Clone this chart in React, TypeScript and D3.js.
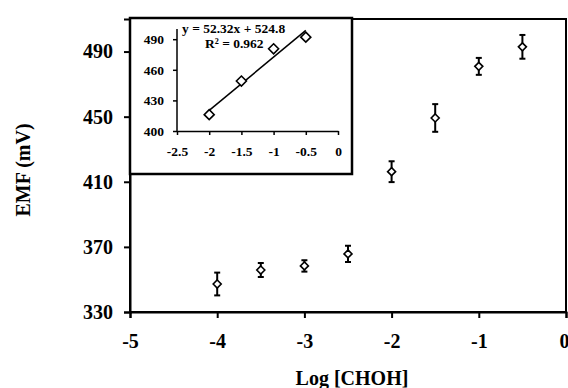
import React, { useEffect, useRef } from 'react'
import { select, scaleLinear, axisBottom, axisLeft, line } from 'd3'

// log concentration vs EMF
const logConc = [-4, -3.5, -3, -2.5, -2, -1.5, -1, -0.5]
const emf = [347.2, 355.8, 358.3, 365.7, 416.2, 449.2, 480.9, 492.9]
const emfErr = [7, 4.3, 3.5, 5, 6.4, 8.5, 5.2, 7.3]

const xTicks = [-5, -4, -3, -2, -1, 0]
const yTicks = [330, 370, 410, 450, 490]

// linear range shown in the inset
const insetX = [-2, -1.5, -1, -0.5]
const insetY = [416, 449, 480.6, 492]
const insetXTicks = [-2.5, -2, -1.5, -1, -0.5, 0]
const insetYTicks = [400, 430, 460, 490]
const slope = 52.32
const intercept = 524.8

const FONT = '"Liberation Serif", "Times New Roman", serif'

const diamond = (g, x, y, r) =>
  g.append('path')
    .attr('d', `M${x},${y - r}L${x + r},${y}L${x},${y + r}L${x - r},${y}Z`)
    .attr('fill', 'white')
    .attr('stroke', 'black')
    .attr('stroke-width', 1.6)

const App = () => {
  const svgRef = useRef()

  useEffect(() => {
    const svg = select(svgRef.current)
    svg.selectAll('*').remove()

    const x = scaleLinear().domain([-5, 0]).range([130, 566])
    const y = scaleLinear().domain([330, 510]).range([312, 19])

    // plot frame
    svg.append('rect')
      .attr('x', 130).attr('y', 19)
      .attr('width', 436).attr('height', 293)
      .attr('fill', 'none').attr('stroke', 'black').attr('stroke-width', 2)

    const xAxis = svg.append('g')
      .attr('transform', `translate(0,${312})`)
      .call(axisBottom(x).tickValues(xTicks).tickSize(6).tickPadding(16).tickFormat(d => String(d)))
    const yAxis = svg.append('g')
      .attr('transform', `translate(130,0)`)
      .call(axisLeft(y).tickValues(yTicks).tickSize(6).tickPadding(11))
    ;[xAxis, yAxis].forEach(a => {
      a.select('.domain').attr('stroke-width', 2)
      a.selectAll('line').attr('stroke-width', 2)
      a.selectAll('text')
        .attr('font-family', FONT).attr('font-weight', 'bold')
        .attr('font-size', 20).attr('fill', 'black')
    })
    // last label sits against the right edge, like the original
    xAxis.selectAll('.tick').filter(d => d === 0).select('text').attr('dx', -2)

    // error bars + markers
    const pts = svg.append('g')
    logConc.forEach((c, i) => {
      const cx = x(c)
      const top = y(emf[i] + emfErr[i])
      const bot = y(emf[i] - emfErr[i])
      pts.append('line').attr('x1', cx).attr('x2', cx).attr('y1', top).attr('y2', bot)
        .attr('stroke', 'black').attr('stroke-width', 2)
      ;[top, bot].forEach(v =>
        pts.append('line').attr('x1', cx - 3).attr('x2', cx + 3).attr('y1', v).attr('y2', v)
          .attr('stroke', 'black').attr('stroke-width', 2))
      diamond(pts, cx, y(emf[i]), 4)
    })

    svg.append('text')
      .attr('x', 352).attr('y', 385)
      .attr('text-anchor', 'middle')
      .attr('font-family', FONT).attr('font-weight', 'bold').attr('font-size', 20)
      .text('Log [CHOH]')
    svg.append('text')
      .attr('transform', 'translate(30,170) rotate(-90)')
      .attr('text-anchor', 'middle')
      .attr('font-family', FONT).attr('font-weight', 'bold').attr('font-size', 20)
      .text('EMF (mV)')

    // inset
    const inset = svg.append('g')
    inset.append('rect')
      .attr('x', 130).attr('y', 18)
      .attr('width', 222).attr('height', 156)
      .attr('fill', 'white').attr('stroke', 'black').attr('stroke-width', 2.5)

    const ix = scaleLinear().domain([-2.5, 0]).range([177, 338])
    const iy = scaleLinear().domain([400, 500]).range([131, 29])

    const ixAxis = inset.append('g')
      .attr('transform', 'translate(0,131)')
      .call(axisBottom(ix).tickValues(insetXTicks).tickSize(4).tickSizeOuter(0).tickPadding(11).tickFormat(d => String(d)))
    const iyAxis = inset.append('g')
      .attr('transform', 'translate(177,0)')
      .call(axisLeft(iy).tickValues(insetYTicks).tickSize(4).tickSizeOuter(0).tickPadding(9))
    ;[ixAxis, iyAxis].forEach(a => {
      a.select('.domain').attr('stroke-width', 1.5)
      a.selectAll('line').attr('stroke-width', 1.5)
      a.selectAll('text')
        .attr('font-family', FONT).attr('font-weight', 'bold')
        .attr('font-size', 13.5).attr('fill', 'black')
    })
    iyAxis.select('.domain').attr('d', `M0,${iy(500)}V${iy(400)}`)

    const fit = line().x(d => ix(d)).y(d => iy(slope * d + intercept))
    inset.append('path')
      .attr('d', fit([-2, -0.5]))
      .attr('fill', 'none').attr('stroke', 'black').attr('stroke-width', 1.5)

    insetX.forEach((c, i) => diamond(inset, ix(c), iy(insetY[i]), 5))

    inset.append('text')
      .attr('x', 182).attr('y', 33)
      .attr('font-family', FONT).attr('font-weight', 'bold').attr('font-size', 13.5)
      .text('y = 52.32x + 524.8')
    inset.append('text')
      .attr('x', 205).attr('y', 48)
      .attr('font-family', FONT).attr('font-weight', 'bold').attr('font-size', 13.5)
      .text('R² = 0.962')
  }, [])

  return (
    <svg ref={svgRef} width={568} height={388}
      style={{ position: 'absolute', left: 0, top: 0, background: 'white' }} />
  )
}

export default App
